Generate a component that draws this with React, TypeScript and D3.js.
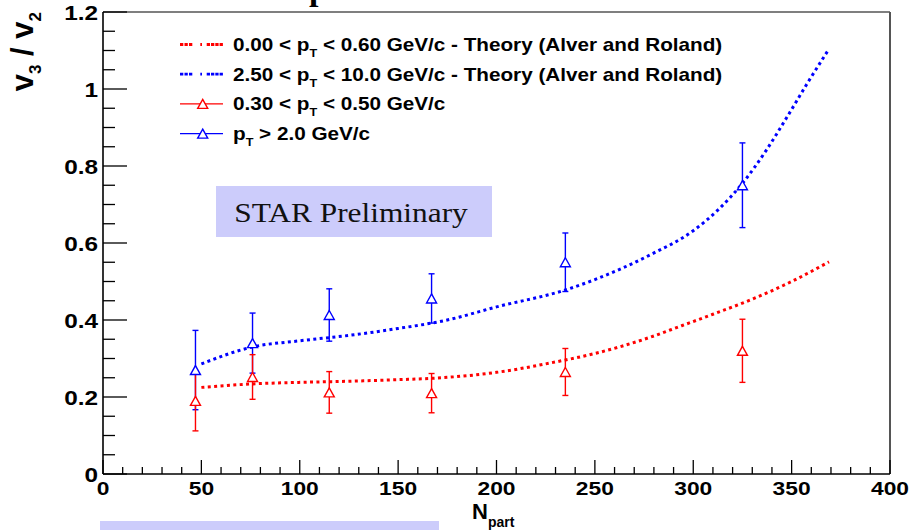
import React from "react";
import * as d3 from "d3";

// Measured points: N_part and v3/v2 with statistical errors
const NPART = [47, 76, 115, 167, 235, 325];
const LOW_PT_RATIO = [0.19, 0.252, 0.212, 0.21, 0.265, 0.32];
const LOW_PT_ERR = [0.078, 0.058, 0.054, 0.051, 0.061, 0.082];
const HIGH_PT_RATIO = [0.27, 0.34, 0.413, 0.456, 0.55, 0.75];
const HIGH_PT_ERR = [0.103, 0.078, 0.068, 0.064, 0.076, 0.11];

// Theory curves (Alver and Roland)
const THEORY_LOW_NPART = [50, 76, 100, 125, 150, 175, 200, 227, 250, 278, 293, 310, 329, 350, 369];
const THEORY_LOW = [0.225, 0.234, 0.238, 0.241, 0.245, 0.251, 0.264, 0.288, 0.313, 0.355, 0.383, 0.415, 0.452, 0.5, 0.551];
const THEORY_HIGH_NPART = [50, 76, 100, 125, 150, 175, 200, 235, 250, 278, 300, 313, 325, 337, 348, 358, 369];
const THEORY_HIGH = [0.286, 0.33, 0.346, 0.36, 0.378, 0.4, 0.434, 0.478, 0.505, 0.569, 0.632, 0.688, 0.755, 0.84, 0.93, 1.015, 1.104];

const X_TICKS = [0, 50, 100, 150, 200, 250, 300, 350, 400];
const Y_TICKS = [0, 0.2, 0.4, 0.6, 0.8, 1, 1.2];

const LEGEND = [
  { pre: "0.00 < p", post: " < 0.60 GeV/c - Theory (Alver and Roland)", color: "#ff0000", kind: "theory" },
  { pre: "2.50 < p", post: " < 10.0 GeV/c - Theory (Alver and Roland)", color: "#0000ff", kind: "theory" },
  { pre: "0.30 < p", post: " < 0.50 GeV/c", color: "#ff0000", kind: "data" },
  { pre: "p", post: " > 2.0 GeV/c", color: "#0000ff", kind: "data" },
];

const W = 910;
const H = 530;
const PLOT = { left: 103, right: 890, top: 12, bottom: 474 };
const SANS = "'Liberation Sans', Arial, Helvetica, sans-serif";
const SERIF = "'Liberation Serif', 'Times New Roman', serif";
const DOTS = "3 3.4";
const LEGEND_DOTS = "3.3 1.2 3.3 1.2 3.3 8 1.7 4.7 3.3 1 3.3 1 3.3 1 3.3";

function tri(cx: number, cy: number, key: string, color: string) {
  const hw = 5;
  const hh = 4.5;
  return (
    <path
      key={key}
      d={`M${cx},${cy - hh}L${cx + hw},${cy + hh}L${cx - hw},${cy + hh}Z`}
      fill="#fff"
      stroke={color}
      strokeWidth={1.4}
    />
  );
}

export default function App() {
  const x = d3.scaleLinear().domain([0, 400]).range([PLOT.left, PLOT.right]);
  const y = d3.scaleLinear().domain([0, 1.2]).range([PLOT.bottom, PLOT.top]);

  const line = d3
    .line<[number, number]>()
    .x((d) => x(d[0]))
    .y((d) => y(d[1]))
    .curve(d3.curveMonotoneX);

  const lowTheory = line(THEORY_LOW_NPART.map((n, i) => [n, THEORY_LOW[i]]) as [number, number][]);
  const highTheory = line(THEORY_HIGH_NPART.map((n, i) => [n, THEORY_HIGH[i]]) as [number, number][]);

  const xMinor = d3.range(0, 401, 10);
  const yMinor = d3.range(0, 1.2001, 0.05);

  const errorBars = (vals: number[], errs: number[], color: string, id: string) =>
    NPART.map((n, i) => {
      const cx = x(n);
      const y1 = y(vals[i] + errs[i]);
      const y0 = y(vals[i] - errs[i]);
      return (
        <g key={`${id}${i}`} stroke={color} strokeWidth={1.4}>
          <line x1={cx} x2={cx} y1={y1} y2={y0} />
          <line x1={cx - 3} x2={cx + 3} y1={y1} y2={y1} />
          <line x1={cx - 3} x2={cx + 3} y1={y0} y2={y0} />
        </g>
      );
    });

  return (
    <svg
      width={W}
      height={H}
      style={{ position: "absolute", left: 0, top: 0, background: "#fff" }}
      fontFamily={SANS}
    >
      <rect x={0} y={0} width={W} height={H} fill="#fff" />

      {/* title glyph running off the top edge */}
      <text x={309} y={0} fontFamily={SERIF} fontWeight="bold" fontSize={34} fill="#000">
        p
      </text>

      {/* frame */}
      <line x1={PLOT.left} x2={PLOT.right} y1={PLOT.top} y2={PLOT.top} stroke="#555" strokeWidth={1.6} />
      <line x1={PLOT.right} x2={PLOT.right} y1={PLOT.top} y2={PLOT.bottom} stroke="#555" strokeWidth={2} />

      {/* STAR Preliminary label */}
      <rect x={216} y={186} width={276} height={51} fill="#ccccfb" />
      <text
        transform={`translate(${351},${222}) scale(1.12,1)`}
        textAnchor="middle"
        fontFamily={SERIF}
        fontSize={28}
        fill="#111"
      >
        STAR Preliminary
      </text>

      {/* lower tag strip */}
      <rect x={100} y={521} width={339} height={12} fill="#ccccfb" />

      {/* y axis ticks */}
      {yMinor.map((v, i) => {
        const major = i % 4 === 0;
        return (
          <line
            key={`ym${i}`}
            x1={PLOT.left}
            x2={PLOT.left + (major ? 24 : 12)}
            y1={y(v)}
            y2={y(v)}
            stroke="#000"
            strokeWidth={1.3}
          />
        );
      })}
      {/* x axis ticks */}
      {xMinor.map((v, i) => {
        const major = i % 5 === 0;
        return (
          <line
            key={`xm${i}`}
            x1={x(v)}
            x2={x(v)}
            y1={PLOT.bottom}
            y2={PLOT.bottom - (major ? 14 : 7)}
            stroke="#000"
            strokeWidth={1.3}
          />
        );
      })}
      <line x1={PLOT.left} x2={PLOT.left} y1={PLOT.top} y2={PLOT.bottom} stroke="#000" strokeWidth={1.6} />
      <line x1={PLOT.left} x2={PLOT.right} y1={PLOT.bottom} y2={PLOT.bottom} stroke="#000" strokeWidth={1.6} />

      {/* y tick labels */}
      {Y_TICKS.map((v) => (
        <text
          key={`yl${v}`}
          transform={`translate(${98},${y(v) + 8}) scale(1.16,1)`}
          textAnchor="end"
          fontWeight="bold"
          fontSize={21}
          fill="#000"
        >
          {d3.format("~g")(v)}
        </text>
      ))}
      {/* x tick labels */}
      {X_TICKS.map((v) => (
        <text
          key={`xl${v}`}
          transform={`translate(${x(v)},${495}) scale(1.2,1)`}
          textAnchor="middle"
          fontWeight="bold"
          fontSize={19}
          fill="#000"
        >
          {v}
        </text>
      ))}

      {/* axis titles */}
      <text x={472} y={519} fontWeight="bold" fontSize={22} fill="#000">
        N<tspan dy={8} fontSize={14}>part</tspan>
      </text>
      <text
        transform={`translate(${33},${12}) rotate(-90)`}
        textAnchor="end"
        fontWeight="bold"
        fontSize={31}
        fill="#000"
      >
        v<tspan dy={8} fontSize={17}>3</tspan>
        <tspan dy={-8}> / v</tspan>
        <tspan dy={8} fontSize={17}>2</tspan>
      </text>

      {/* theory curves */}
      <path d={lowTheory ?? ""} fill="none" stroke="#ff0000" strokeWidth={3} strokeDasharray={DOTS} />
      <path d={highTheory ?? ""} fill="none" stroke="#0000ff" strokeWidth={3} strokeDasharray={DOTS} />

      {/* measured points */}
      {errorBars(HIGH_PT_RATIO, HIGH_PT_ERR, "#0000ff", "hb")}
      {errorBars(LOW_PT_RATIO, LOW_PT_ERR, "#ff0000", "lb")}
      {NPART.map((n, i) => tri(x(n), y(HIGH_PT_RATIO[i]), `ht${i}`, "#0000ff"))}
      {NPART.map((n, i) => tri(x(n), y(LOW_PT_RATIO[i]), `lt${i}`, "#ff0000"))}

      {/* legend */}
      {LEGEND.map((e, i) => {
        const base = 51 + i * 29.7;
        const cy = base - 6.5;
        return (
          <g key={`lg${i}`}>
            {e.kind === "theory" ? (
              <line x1={180} x2={223} y1={cy} y2={cy} stroke={e.color} strokeWidth={2.8} strokeDasharray={LEGEND_DOTS} />
            ) : (
              <g>
                <line x1={180} x2={223} y1={cy} y2={cy} stroke={e.color} strokeWidth={1.2} />
                {tri(202.7, cy, `lgt${i}`, e.color)}
              </g>
            )}
            <text transform={`translate(233,${base}) scale(1.15,1)`} fontWeight="bold" fontSize={18} fill="#000">
              {e.pre}
              <tspan dy={6} fontSize={11}>T</tspan>
              <tspan dy={-6}>{e.post}</tspan>
            </text>
          </g>
        );
      })}
    </svg>
  );
}
